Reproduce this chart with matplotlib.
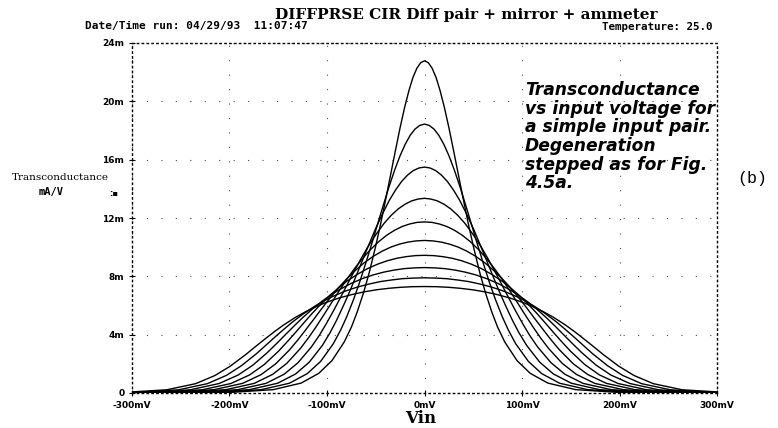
import matplotlib
matplotlib.use("Agg")
import matplotlib.pyplot as plt
import numpy as np

# positive half of each gm curve (Vin in mV, gm in mA/V);
# the curves are symmetric about 0 V, so the negative half is the mirror image
curve0_mv = [0, 3.9, 7.8, 11.9, 16.0, 20.4, 25.1, 30.2, 35.9, 40.2, 44.9, 50.4, 56.9, 62.4,
             69.1, 74.9, 82.3, 94.9, 108.4, 126.5, 155.1, 196.9, 300]
curve0_gm = [22.78, 22.65, 22.27, 21.63, 20.73, 19.58, 18.17, 16.50, 14.58, 13.15, 11.62, 9.97,
             8.20, 6.90, 5.54, 4.53, 3.50, 2.22, 1.35, 0.68, 0.23, 0.05, 0.0]
curve1_mv = [0, 4.8, 9.7, 14.6, 19.7, 25.0, 30.6, 36.6, 43.2, 48.1, 53.5, 59.6, 66.7, 72.6,
             79.7, 85.9, 93.5, 106.5, 120.2, 138.6, 167.3, 209.0, 300]
curve1_gm = [18.44, 18.35, 18.10, 17.68, 17.07, 16.28, 15.29, 14.10, 12.67, 11.58, 10.37, 9.04,
             7.56, 6.44, 5.24, 4.33, 3.38, 2.17, 1.33, 0.67, 0.23, 0.05, 0.0]
curve2_mv = [0, 5.7, 11.5, 17.4, 23.4, 29.6, 36.1, 43.0, 50.6, 56.0, 62.0, 68.7, 76.4, 82.8,
             90.3, 96.8, 104.8, 118.1, 132.1, 150.6, 179.4, 221.2, 300]
curve2_gm = [15.49, 15.43, 15.25, 14.94, 14.51, 13.93, 13.21, 12.30, 11.20, 10.34, 9.37, 8.26,
             7.01, 6.04, 4.97, 4.14, 3.26, 2.12, 1.31, 0.67, 0.23, 0.05, 0.0]
curve3_mv = [0, 6.6, 13.3, 20.1, 27.0, 34.2, 41.6, 49.4, 57.9, 64.0, 70.6, 77.9, 86.2, 93.0,
             100.9, 107.7, 116.0, 129.7, 143.9, 162.6, 191.5, 233.4, 300]
curve3_gm = [13.35, 13.30, 13.17, 12.94, 12.62, 12.18, 11.62, 10.91, 10.04, 9.34, 8.54, 7.61,
             6.54, 5.68, 4.73, 3.97, 3.16, 2.08, 1.29, 0.66, 0.23, 0.05, 0.0]
curve4_mv = [0, 7.6, 15.2, 22.8, 30.7, 38.7, 47.1, 55.8, 65.2, 71.9, 79.1, 87.0, 96.0, 103.1,
             111.5, 118.6, 127.2, 141.3, 155.7, 174.6, 203.7, 245.6, 300]
curve4_gm = [11.73, 11.70, 11.59, 11.42, 11.16, 10.82, 10.37, 9.81, 9.09, 8.52, 7.85, 7.06,
             6.12, 5.37, 4.51, 3.82, 3.06, 2.03, 1.28, 0.66, 0.23, 0.05, 0.0]
curve5_mv = [0, 8.5, 17.0, 25.6, 34.3, 43.3, 52.6, 62.2, 72.5, 79.8, 87.6, 96.2, 105.7, 113.3,
             122.1, 129.5, 138.4, 152.8, 167.6, 186.6, 215.8, 257.8, 300]
curve5_gm = [10.46, 10.43, 10.35, 10.21, 10.01, 9.73, 9.37, 8.91, 8.31, 7.83, 7.26, 6.58,
             5.76, 5.08, 4.31, 3.67, 2.96, 1.99, 1.26, 0.66, 0.23, 0.05, 0.01]
curve6_mv = [0, 9.4, 18.8, 28.3, 38.0, 47.9, 58.1, 68.6, 79.8, 87.7, 96.2, 105.3, 115.5, 123.5,
             132.7, 140.4, 149.7, 164.4, 179.4, 198.6, 228.0, 270.0, 300]
curve6_gm = [9.44, 9.42, 9.35, 9.24, 9.07, 8.84, 8.54, 8.15, 7.66, 7.24, 6.75, 6.16,
             5.44, 4.83, 4.12, 3.54, 2.87, 1.95, 1.24, 0.65, 0.22, 0.05, 0.02]
curve7_mv = [0, 10.3, 20.6, 31.1, 41.7, 52.5, 63.5, 75.1, 87.2, 95.7, 104.7, 114.5, 125.2, 133.7,
             143.4, 151.4, 160.9, 176.0, 191.2, 210.7, 240.1, 282.2, 300]
curve7_gm = [8.60, 8.58, 8.53, 8.43, 8.29, 8.10, 7.85, 7.52, 7.09, 6.74, 6.31, 5.79,
             5.15, 4.60, 3.95, 3.41, 2.79, 1.91, 1.23, 0.65, 0.22, 0.05, 0.03]
curve8_mv = [0, 11.2, 22.5, 33.8, 45.3, 57.0, 69.0, 81.5, 94.5, 103.6, 113.3, 123.6, 135.0, 143.9,
             154.0, 162.3, 172.1, 187.6, 203.1, 222.7, 252.2, 294.4, 300]
curve8_gm = [7.90, 7.88, 7.84, 7.75, 7.64, 7.47, 7.26, 6.98, 6.61, 6.30, 5.92, 5.46,
             4.89, 4.39, 3.80, 3.30, 2.71, 1.88, 1.21, 0.64, 0.22, 0.05, 0.04]
curve9_mv = [0, 12.1, 24.3, 36.6, 49.0, 61.6, 74.5, 87.9, 101.8, 111.5, 121.8, 132.8, 144.8, 154.1,
             164.6, 173.2, 183.3, 199.2, 214.9, 234.7, 264.4, 306.5]
curve9_gm = [7.30, 7.29, 7.25, 7.18, 7.08, 6.94, 6.75, 6.51, 6.19, 5.91, 5.58, 5.17,
             4.65, 4.20, 3.65, 3.19, 2.64, 1.84, 1.20, 0.64, 0.22, 0.05]

curves_mv = [curve0_mv, curve1_mv, curve2_mv, curve3_mv, curve4_mv,
             curve5_mv, curve6_mv, curve7_mv, curve8_mv, curve9_mv]
curves_gm = [curve0_gm, curve1_gm, curve2_gm, curve3_gm, curve4_gm,
             curve5_gm, curve6_gm, curve7_gm, curve8_gm, curve9_gm]

x_ticks = [-300, -200, -100, 0, 100, 200, 300]
x_tick_labels = ["-300mV", "-200mV", "-100mV", "0mV", "100mV", "200mV", "300mV"]
y_ticks = [0, 4, 8, 12, 16, 20, 24]
y_tick_labels = ["0", "4m", "8m", "12m", "16m", "20m", "24m"]

note_lines = ["Transconductance", "vs input voltage for", "a simple input pair.",
              "Degeneration", "stepped as for Fig.", "4.5a."]

W, H = 778, 428
fig = plt.figure(figsize=(W / 100, H / 100), dpi=100)
ax = fig.add_axes([132 / W, 1 - 393 / H, 585 / W, 350 / H])

for mv, gm in zip(curves_mv, curves_gm):
    mv = np.array(mv)
    gm = np.array(gm)
    xs = np.concatenate([-mv[::-1], mv[1:]])
    ys = np.concatenate([gm[::-1], gm[1:]])
    ax.plot(xs, ys, color="black", lw=1.0, solid_joinstyle="round")

ax.set_xlim(-300, 300)
ax.set_ylim(0, 24)
ax.set_xticks(x_ticks)
ax.set_xticklabels(x_tick_labels, fontsize=6.5, fontweight="bold")
ax.set_yticks(y_ticks)
ax.set_yticklabels(y_tick_labels, fontsize=6.5, fontweight="bold")
ax.tick_params(direction="inout", length=5, width=0.8, pad=3)

# dotted probe-style frame and sparse grid
for side in ["left", "right", "top", "bottom"]:
    ax.spines[side].set_linestyle((0, (1, 2.5)))
    ax.spines[side].set_linewidth(1.0)
ax.grid(True, color="0.3", linestyle=(0, (1, 12)), linewidth=0.8)

def px(x, y):
    return x / W, 1 - y / H

fig.text(*px(466, 15), "DIFFPRSE CIR Diff pair + mirror + ammeter",
         ha="center", va="center", fontsize=11, fontweight="bold", family="DejaVu Serif")
fig.text(*px(85, 26), "Date/Time run: 04/29/93  11:07:47",
         ha="left", va="center", fontsize=8, fontweight="bold", family="DejaVu Sans Mono")
fig.text(*px(713, 27), "Temperature: 25.0",
         ha="right", va="center", fontsize=7.8, fontweight="bold", family="DejaVu Sans Mono")

fig.text(*px(60, 178), "Transconductance", ha="center", va="center",
         fontsize=7.5, family="DejaVu Serif")
fig.text(*px(51, 192), "mA/V", ha="center", va="center",
         fontsize=7.5, fontweight="bold", family="DejaVu Sans Mono")
fig.text(*px(114, 193), ":\u25aa", ha="center", va="center", fontsize=6, fontweight="bold")

for i, line in enumerate(note_lines):
    fig.text(*px(525, 95 + 18.7 * i), line, ha="left", va="baseline",
             fontsize=12.3, fontweight="bold", style="italic", family="DejaVu Sans")

fig.text(*px(752, 178), "(b)", ha="center", va="center",
         fontsize=12, family="Liberation Mono")
fig.text(*px(421, 427), "Vin", ha="center", va="bottom",
         fontsize=12, fontweight="bold", family="DejaVu Serif")

fig.savefig("out.png", dpi=100)
